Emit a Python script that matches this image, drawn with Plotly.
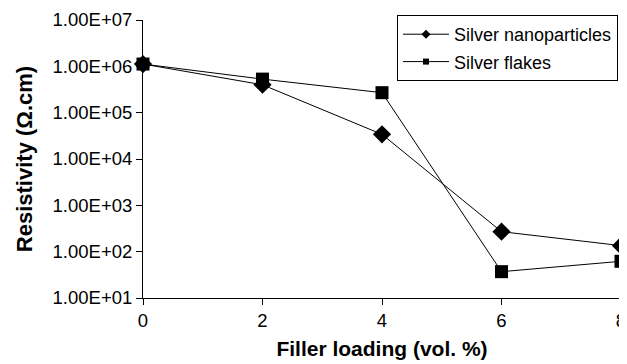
import plotly.graph_objects as go

filler = [0, 2, 4, 6, 8]
nano = [1.12e6, 4.0e5, 3.4e4, 270, 135]
flakes = [1.12e6, 5.3e5, 2.7e5, 37, 62]
ytick_vals = [1e1, 1e2, 1e3, 1e4, 1e5, 1e6, 1e7]
ytick_text = ["1.00E+01", "1.00E+02", "1.00E+03", "1.00E+04", "1.00E+05", "1.00E+06", "1.00E+07"]
xtick_vals = [0, 2, 4, 6, 8]
names = ["Silver nanoparticles", "Silver flakes"]

font = "Liberation Sans, Arial, sans-serif"

# the page body has an 8px default margin, so the figure is drawn 8px smaller
W, H = 619, 356

fig = go.Figure()
fig.add_trace(go.Scatter(x=filler, y=nano, mode="lines+markers", name=names[0], showlegend=False,
                         line=dict(color="black", width=1), cliponaxis=False,
                         marker=dict(symbol="diamond", size=14, color="black")))
fig.add_trace(go.Scatter(x=filler, y=flakes, mode="lines+markers", name=names[1], showlegend=False,
                         line=dict(color="black", width=1), cliponaxis=False,
                         marker=dict(symbol="square", size=13, color="black")))
# legend-only entries with small markers
fig.add_trace(go.Scatter(x=[None], y=[None], mode="lines+markers", name=names[0], legendgroup="a",
                         line=dict(color="black", width=1),
                         marker=dict(symbol="diamond", size=7, color="black")))
fig.add_trace(go.Scatter(x=[None], y=[None], mode="lines+markers", name=names[1], legendgroup="b",
                         line=dict(color="black", width=1),
                         marker=dict(symbol="square", size=6, color="black")))

fig.update_layout(
    width=W, height=H,
    margin=dict(l=135, r=6, t=12, b=66, autoexpand=False),
    paper_bgcolor="white", plot_bgcolor="white",
    font=dict(family=font, size=18, color="black"),
    showlegend=True,
    legend=dict(x=389 / W, y=1 - 7 / H, xref="container", yref="container",
                xanchor="left", yanchor="top",
                bordercolor="black", borderwidth=1, bgcolor="white",
                tracegroupgap=1, itemwidth=46,
                font=dict(size=18, family=font)),
    xaxis=dict(range=[0, 8], tickvals=xtick_vals, showline=True, linecolor="black", linewidth=1,
               ticks="outside", ticklen=6, tickcolor="black", showgrid=False, zeroline=False,
               tickfont=dict(size=18.5), automargin=False,
               title=dict(text="<b>Filler loading (vol. %)</b>", font=dict(size=21), standoff=11)),
    yaxis=dict(type="log", range=[1, 7], tickvals=ytick_vals, ticktext=ytick_text,
               showline=True, linecolor="black", linewidth=1,
               ticks="outside", ticklen=6, tickcolor="black", showgrid=False, zeroline=False,
               tickfont=dict(size=18.5), automargin=False,
               title=dict(text="<b>Resistivity (Ω.cm)</b>", font=dict(size=22), standoff=13)),
)

fig.write_html("out.html")
